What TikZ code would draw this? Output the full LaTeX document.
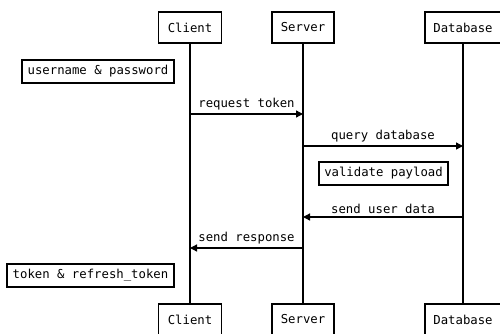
\documentclass[tikz,border=0pt]{standalone}
\usepackage{fontspec}
\setmonofont{DejaVu Sans Mono}
\usetikzlibrary{arrows.meta}
\begin{document}
\begin{tikzpicture}[x=1pt,y=-1pt,
  every node/.style={font=\ttfamily\fontsize{12.3}{14}\selectfont},
  actor/.style={draw, line width=1.3pt, minimum height=31pt, inner sep=0pt, fill=white},
  note/.style={draw, line width=1.3pt, minimum height=23pt, inner sep=0pt},
  life/.style={line width=1.3pt},
  msg/.style={line width=1.3pt, -{Triangle[length=7pt,width=7pt]}},
  lbl/.style={inner sep=1pt}]
\useasboundingbox (0,0) rectangle (500,333);
% actors
\node[actor, minimum width=63pt] (cT) at (190,27.5) {Client};
\node[actor, minimum width=62pt] (sT) at (303,27.5) {Server};
\node[actor, minimum width=76pt] (dT) at (463,27.5) {Database};
\node[actor, minimum width=63pt] (cB) at (190,319.5) {Client};
\node[actor, minimum width=62pt] (sB) at (303,319.5) {Server};
\node[actor, minimum width=76pt] (dB) at (463,319.5) {Database};
% lifelines
\draw[life] (cT.south) -- (cB.north);
\draw[life] (sT.south) -- (sB.north);
\draw[life] (dT.south) -- (dB.north);
% notes
\node[note, minimum width=152pt] (n1) at (98,71.5) {username \& password};
\node[note, minimum width=129pt] (n2) at (383.5,173.5) {validate payload};
\node[note, minimum width=167pt] (n3) at (90.5,275.5) {token \& refresh\_token};
% message endpoints
\coordinate (c1) at (190,114);
\coordinate (s1) at (303,114);
\coordinate (s2) at (303,146);
\coordinate (d2) at (463,146);
\coordinate (d3) at (463,217);
\coordinate (s3) at (303,217);
\coordinate (s4) at (303,248);
\coordinate (c4) at (190,248);
% messages
\draw[msg] (c1) -- node[lbl, above=2pt] (l1) {request token} (s1);
\draw[msg] (s2) -- node[lbl, above=2pt] (l2) {query database} (d2);
\draw[msg] (d3) -- node[lbl, above=2pt] (l3) {send user data} (s3);
\draw[msg] (s4) -- node[lbl, above=2pt] (l4) {send response} (c4);
\end{tikzpicture}
\end{document}
